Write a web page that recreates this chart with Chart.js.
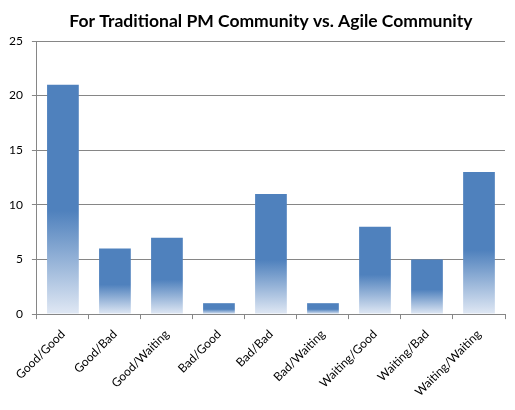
<!DOCTYPE html>
<html><head><meta charset="utf-8">
<script src="https://cdn.jsdelivr.net/npm/chart.js@4"></script>
<style>html,body{margin:0;padding:0;background:#fff}#wrap{width:515px;height:410px}</style>
</head><body><div id="wrap"><canvas id="c"></canvas></div>
<script>
const categories = ["Good/Good","Good/Bad","Good/Waiting","Bad/Good","Bad/Bad","Bad/Waiting","Waiting/Good","Waiting/Bad","Waiting/Waiting"];
const values = [21, 6, 7, 1, 11, 1, 8, 5, 13];
const yTicks = [0, 5, 10, 15, 20, 25];

function barFill(ctx){
  const chart = ctx.chart;
  const y = chart.scales && chart.scales.y;
  if (!y || ctx.raw === undefined) return '#4F81BD';
  const top = y.getPixelForValue(ctx.raw);
  const bot = y.getPixelForValue(0);
  if (!isFinite(top) || !isFinite(bot) || bot - top < 1) return '#4F81BD';
  const g = chart.ctx.createLinearGradient(0, top, 0, bot);
  g.addColorStop(0, '#4F81BD');
  g.addColorStop(0.55, '#4F81BD');
  g.addColorStop(1, '#E0E8F4');
  return g;
}

new Chart(document.getElementById('c'), {
  type: 'bar',
  data: { labels: categories, datasets: [{ data: values, backgroundColor: barFill, borderWidth: 0, barPercentage: 0.61, categoryPercentage: 1 }] },
  options: {
    responsive: true, maintainAspectRatio: false, animation: false,
    layout: { padding: { left: 0, right: 10, top: 3, bottom: 3 } },
    plugins: {
      legend: { display: false }, tooltip: { enabled: false },
      title: { display: true, fullSize: false, text: 'For Traditional PM Community vs. Agile Community', color: '#000',
        font: { family: 'Lato', size: 17.5, weight: 'bold' }, padding: { top: 8, bottom: 9 } }
    },
    scales: {
      x: {
        grid: { display: true, drawOnChartArea: false, color: '#868686', tickLength: 5, offset: true },
        border: { color: '#868686' },
        ticks: { color: '#000', font: { family: 'Lato', size: 12 }, maxRotation: 45, minRotation: 45, autoSkip: false, padding: 8 }
      },
      y: {
        min: 0, max: 25,
        afterBuildTicks: s => { s.ticks = yTicks.map(v => ({ value: v })); },
        grid: { color: '#868686', tickLength: 5 },
        border: { color: '#868686' },
        ticks: { color: '#000', font: { family: 'Lato', size: 12 }, padding: 9 }
      }
    }
  }
});
</script></body></html>
